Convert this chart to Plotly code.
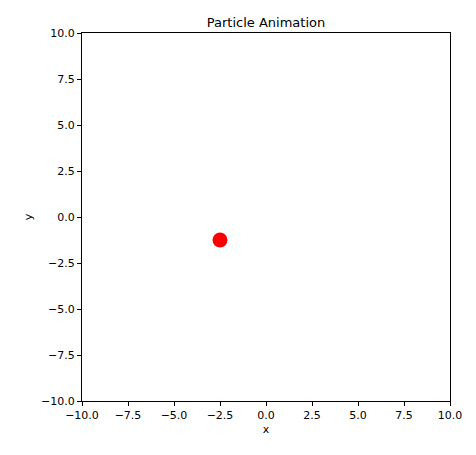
import plotly.graph_objects as go

particle_x = [-2.5]
particle_y = [-1.25]
tick_vals = [-10, -7.5, -5, -2.5, 0, 2.5, 5, 7.5, 10]
tick_text = ["−10.0", "−7.5", "−5.0", "−2.5", "0.0", "2.5", "5.0", "7.5", "10.0"]

fig = go.Figure(go.Scatter(x=particle_x, y=particle_y, mode="markers",
                           marker=dict(color="red", size=15)))

axis = dict(range=[-10, 10], tickvals=tick_vals, ticktext=tick_text,
            showgrid=False, zeroline=False, showline=True, linecolor="black",
            linewidth=1, mirror=True, ticks="outside", ticklen=4,
            tickcolor="black", tickfont=dict(size=11, color="black"))

# page body adds an 8px offset, so shrink the figure to keep the plot area in place
fig.update_layout(
    width=468, height=447,
    margin=dict(l=74, r=26, t=25, b=54),
    plot_bgcolor="white", paper_bgcolor="white",
    font=dict(family="DejaVu Sans", color="black"),
    title=dict(text="Particle Animation", x=0.5, xref="paper", xanchor="center",
               y=1, yref="paper", yanchor="bottom", pad=dict(b=6),
               font=dict(size=13)),
    xaxis=dict(axis, title=dict(text="x", font=dict(size=11), standoff=4)),
    yaxis=dict(axis, title=dict(text="y", font=dict(size=11), standoff=6)),
    showlegend=False,
)

fig.write_html("out.html")
